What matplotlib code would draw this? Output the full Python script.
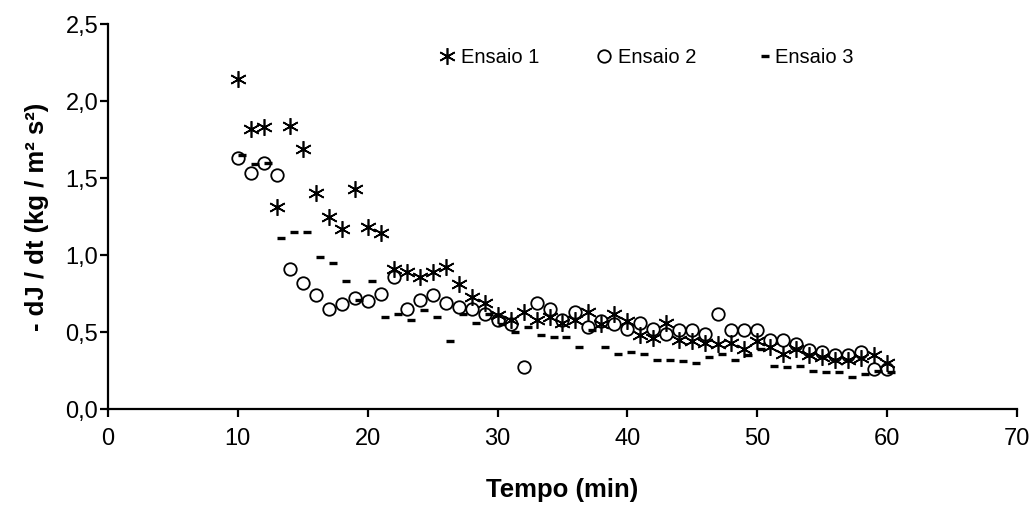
import matplotlib.pyplot as plt
import matplotlib.ticker as mticker
from matplotlib.path import Path

plt.rcParams['font.family'] = ['Liberation Sans', 'DejaVu Sans']

# tempo (min)
tempo = list(range(10, 61))

ensaio1 = [2.14, 1.82, 1.83, 1.31, 1.84, 1.69, 1.40, 1.25, 1.17, 1.43,
           1.18, 1.14, 0.91, 0.89, 0.86, 0.89, 0.92, 0.81, 0.73, 0.69,
           0.61, 0.58, 0.63, 0.58, 0.60, 0.56, 0.58, 0.63, 0.55, 0.62,
           0.57, 0.48, 0.46, 0.56, 0.45, 0.44, 0.43, 0.42, 0.43, 0.39,
           0.44, 0.40, 0.36, 0.39, 0.35, 0.34, 0.32, 0.32, 0.33, 0.35,
           0.30]

ensaio2 = [1.63, 1.53, 1.60, 1.52, 0.91, 0.82, 0.74, 0.65, 0.68, 0.72,
           0.70, 0.75, 0.86, 0.65, 0.71, 0.74, 0.69, 0.66, 0.65, 0.62,
           0.58, 0.55, 0.27, 0.69, 0.65, 0.58, 0.63, 0.53, 0.57, 0.55,
           0.52, 0.56, 0.52, 0.49, 0.51, 0.51, 0.49, 0.62, 0.51, 0.51,
           0.51, 0.45, 0.45, 0.42, 0.38, 0.37, 0.35, 0.35, 0.37, 0.26,
           0.26]

ensaio3 = [1.65, 1.59, 1.60, 1.11, 1.15, 1.15, 0.99, 0.95, 0.83, 0.71,
           0.83, 0.60, 0.62, 0.58, 0.64, 0.60, 0.44, 0.62, 0.56, 0.62,
           0.55, 0.50, 0.53, 0.48, 0.47, 0.47, 0.40, 0.51, 0.40, 0.36,
           0.37, 0.36, 0.32, 0.32, 0.31, 0.30, 0.34, 0.36, 0.32, 0.35,
           0.39, 0.28, 0.27, 0.28, 0.25, 0.24, 0.24, 0.21, 0.23, 0.25,
           0.24]

# traço do Excel: começa no ponto e vai para a direita
traco = Path([(0, 0), (1, 0)], [Path.MOVETO, Path.LINETO])

fig = plt.figure(figsize=(10.36, 5.11), dpi=100)
ax = fig.add_axes([0.1042, 0.1996, 0.8775, 0.7534])

ax.plot(tempo, ensaio1, linestyle='none', marker=(6, 2, 0), markersize=12,
        markeredgewidth=1.2, color='black', label='Ensaio 1')
ax.plot(tempo, ensaio2, linestyle='none', marker='o', markersize=9,
        markerfacecolor='none', markeredgewidth=1.3, color='black', label='Ensaio 2')
ax.plot(tempo, ensaio3, linestyle='none', marker=traco, markersize=11,
        markeredgewidth=2.4, color='black', label='Ensaio 3')

ax.set_xlim(0, 70)
ax.set_ylim(0, 2.5)
ax.xaxis.set_major_locator(mticker.MultipleLocator(10))
ax.yaxis.set_major_locator(mticker.MultipleLocator(0.5))
ax.yaxis.set_major_formatter(mticker.FuncFormatter(lambda v, p: f'{v:.1f}'.replace('.', ',')))

for lado in ['top', 'right']:
    ax.spines[lado].set_visible(False)
for lado in ['left', 'bottom']:
    ax.spines[lado].set_linewidth(1.6)

ax.tick_params(direction='out', length=6, width=1.6, labelsize=17)
ax.tick_params(axis='x', pad=8)
ax.tick_params(axis='y', pad=1)

ax.set_xlabel('Tempo (min)', fontsize=18.5, fontweight='bold', labelpad=20)
ax.set_ylabel('- dJ / dt (kg / m² s²)', fontsize=18.5, fontweight='bold', labelpad=12)

ax.legend(loc='center', bbox_to_anchor=(0.59, 0.914), ncol=3, frameon=False,
          fontsize=14.5, handletextpad=0.1, columnspacing=2.6, handlelength=1.2)

fig.savefig('out.png', dpi=100)
